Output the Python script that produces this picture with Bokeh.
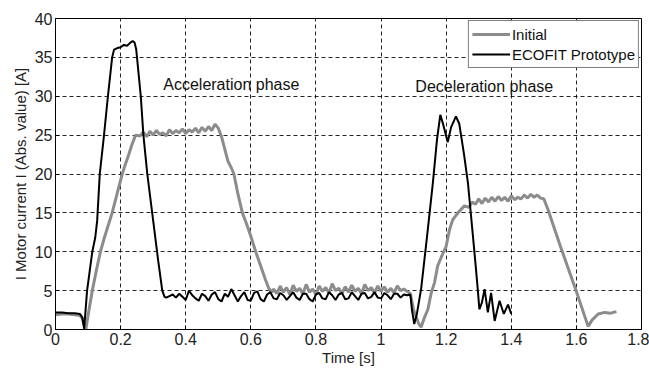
from bokeh.plotting import figure
from bokeh.models import Range1d, FixedTicker, CustomJSTickFormatter, Label, Legend, LegendItem
from bokeh.embed import file_html
from bokeh.resources import INLINE

# ---------------- data ----------------
x_ticks = [0, 0.2, 0.4, 0.6, 0.8, 1.0, 1.2, 1.4, 1.6, 1.8]
y_ticks = [0, 5, 10, 15, 20, 25, 30, 35, 40]

# ECOFIT Prototype (black)
eco_t_head = [0.00, 0.02, 0.04, 0.06, 0.075, 0.082, 0.088, 0.097, 0.113, 0.122, 0.128, 0.136,
              0.149, 0.161, 0.174, 0.180, 0.190, 0.200, 0.210, 0.220, 0.230, 0.237, 0.243,
              0.248, 0.262, 0.270, 0.282, 0.300, 0.315, 0.328, 0.335, 0.340]
eco_i_head = [2.2, 2.2, 2.1, 2.1, 2.0, 1.6, 0.1, 5.0, 10.0, 11.8, 14.0, 20.0,
              25.0, 30.0, 35.0, 36.0, 36.2, 36.3, 36.6, 36.5, 36.9, 37.1, 36.9,
              36.0, 30.0, 25.0, 20.0, 14.0, 9.0, 5.0, 4.2, 4.1]
eco_t_flat = [round(0.35 + 0.01 * k, 2) for k in range(74)]
eco_i_flat = [4.3, 4.5, 4.1, 4.6, 4.2, 3.8, 5.0, 4.4, 4.0, 3.7,
              4.6, 4.3, 3.7, 4.5, 4.8, 3.9, 3.6, 4.6, 4.2, 5.2,
              4.4, 3.6, 4.3, 4.8, 3.8, 3.7, 4.7, 4.9, 3.9, 3.6,
              4.5, 4.8, 4.0, 3.9, 4.7, 4.4, 3.8, 4.3, 4.8, 4.1,
              3.8, 4.6, 4.6, 3.9, 3.6, 4.5, 4.7, 4.0, 3.9, 4.8,
              4.4, 3.8, 4.5, 4.7, 3.9, 4.0, 4.8, 4.3, 3.8, 4.6,
              4.7, 4.0, 4.2, 4.8, 4.1, 4.0, 4.7, 4.4, 3.9, 4.6,
              4.6, 4.1, 4.5, 4.4]
eco_t_tail = [1.09, 1.095, 1.102, 1.11, 1.123, 1.14, 1.159, 1.172, 1.182, 1.19, 1.205, 1.215,
              1.23, 1.24, 1.255, 1.267, 1.28, 1.29, 1.297, 1.302, 1.31, 1.318, 1.328, 1.338,
              1.349, 1.364, 1.377, 1.39, 1.40]
eco_i_tail = [4.5, 2.5, 0.7, 2.0, 5.2, 11.5, 18.8, 24.5, 27.6, 26.5, 24.1, 26.0,
              27.4, 26.5, 22.5, 18.8, 13.0, 8.5, 5.2, 2.6, 3.5, 5.2, 2.2, 4.7,
              1.1, 3.7, 2.0, 3.2, 2.0]

# Initial (gray)
init_t_head = [0.00, 0.02, 0.04, 0.06, 0.075, 0.083, 0.088, 0.093, 0.10, 0.113, 0.125, 0.138,
               0.15, 0.162, 0.174, 0.19, 0.205, 0.215, 0.225, 0.235, 0.246]
init_i_head = [1.9, 2.0, 2.0, 1.9, 1.8, 1.4, 0.6, 0.0, 1.8, 5.0, 7.5, 10.0,
               11.8, 13.4, 15.0, 17.6, 20.0, 21.3, 22.5, 23.8, 25.0]
init_t_plat1 = [round(0.26 + 0.01 * k, 2) for k in range(25)]
init_i_plat1 = [24.9, 25.4, 24.8, 25.5, 25.0, 25.6, 25.1, 25.3, 24.9, 25.7,
                25.2, 25.6, 25.3, 25.8, 25.2, 25.7, 25.4, 25.9, 25.3, 26.0,
                25.5, 26.1, 25.6, 26.4, 25.9]
init_t_drop1 = [0.51, 0.52, 0.53, 0.54, 0.548, 0.56, 0.574, 0.585, 0.60, 0.615, 0.63, 0.645, 0.655, 0.665]
init_i_drop1 = [24.8, 23.2, 21.6, 20.8, 20.0, 17.5, 15.0, 13.8, 12.0, 10.0, 8.2, 6.4, 5.3, 4.8]
init_t_flat = [round(0.67 + 0.01 * k, 2) for k in range(42)]
init_i_flat = [5.2, 4.6, 5.6, 4.8, 5.4, 4.5, 5.7, 4.9, 5.3, 4.6,
               5.8, 4.8, 5.2, 4.5, 5.6, 4.9, 5.4, 4.7, 5.9, 5.0,
               5.3, 4.6, 5.5, 4.8, 5.7, 4.9, 5.3, 4.6, 5.8, 5.0,
               5.4, 4.7, 5.6, 4.9, 5.5, 4.8, 5.3, 4.7, 5.6, 5.0,
               5.2, 4.9]
init_t_rise2 = [1.09, 1.10, 1.115, 1.123, 1.133, 1.144, 1.154, 1.164, 1.174, 1.187, 1.20, 1.21,
                1.22, 1.236, 1.256, 1.27, 1.28]
init_i_rise2 = [4.6, 2.5, 0.8, 0.3, 1.5, 2.6, 4.7, 6.0, 8.2, 9.5, 10.7, 12.8,
                14.1, 15.0, 15.9, 15.7, 16.4]
init_t_plat2 = [round(1.29 + 0.01 * k, 2) for k in range(22)]
init_i_plat2 = [16.1, 16.8, 16.2, 16.9, 16.4, 17.0, 16.5, 17.1, 16.6, 17.0,
                16.5, 17.2, 16.7, 17.0, 16.8, 17.3, 16.9, 17.4, 17.0, 17.3,
                16.9, 16.8]
init_t_tail = [1.513, 1.55, 1.60, 1.636, 1.648, 1.667, 1.687, 1.705, 1.723]
init_i_tail = [15.4, 10.8, 4.9, 0.4, 1.2, 2.0, 2.2, 2.1, 2.3]

eco_t = eco_t_head + eco_t_flat + eco_t_tail
eco_i = eco_i_head + eco_i_flat + eco_i_tail
init_t = init_t_head + init_t_plat1 + init_t_drop1 + init_t_flat + init_t_rise2 + init_t_plat2 + init_t_tail
init_i = init_i_head + init_i_plat1 + init_i_drop1 + init_i_flat + init_i_rise2 + init_i_plat2 + init_i_tail
assert len(eco_t) == len(eco_i)
assert len(init_t) == len(init_i)

series_labels = ["Initial", "ECOFIT Prototype"]
phase_labels = ["Acceleration phase", "Deceleration phase"]
phase_x = [0.54, 1.317]
phase_y = [31.5, 31.2]

FONT = "Liberation Sans"

# ---------------- figure ----------------
p = figure(width=649, height=368, output_backend="svg", toolbar_location=None,
           x_range=Range1d(0, 1.8), y_range=Range1d(0, 40),
           min_border_left=55, min_border_right=8, min_border_top=18, min_border_bottom=37)
p.background_fill_color = "white"
p.border_fill_color = "white"
p.outline_line_color = "black"
p.outline_line_width = 1
p.outline_line_alpha = 1

p.xaxis.ticker = FixedTicker(ticks=x_ticks)
p.yaxis.ticker = FixedTicker(ticks=y_ticks)
p.xaxis.formatter = CustomJSTickFormatter(code="return (Math.round(tick*10)/10).toString();")

for ax in (p.xaxis, p.yaxis):
    ax.axis_line_color = "black"
    ax.major_tick_line_color = "black"
    ax.major_tick_in = 4
    ax.major_tick_out = 0
    ax.minor_tick_line_color = None
    ax.major_label_text_font = FONT
    ax.major_label_text_font_size = "16px"
    ax.major_label_text_color = "#222222"
    ax.axis_label_text_font = FONT
    ax.axis_label_text_font_size = "15px"
    ax.axis_label_text_font_style = "normal"
    ax.axis_label_text_color = "#222222"
p.xaxis.major_label_standoff = 3
p.yaxis.major_label_standoff = 3
p.xaxis.axis_label = "Time [s]"
p.yaxis.axis_label = "I Motor current I (Abs. value) [A]"
p.xaxis.axis_label_standoff = 1
p.yaxis.axis_label_standoff = 3

for g in (p.xgrid, p.ygrid):
    g.grid_line_color = "black"
    g.grid_line_dash = "4 3"
    g.grid_line_alpha = 0.85
    g.grid_line_width = 1

r_init = p.line(init_t, init_i, line_color="#8c8c8c", line_width=3)
r_eco = p.line(eco_t, eco_i, line_color="black", line_width=2)

for txt, xx, yy in zip(phase_labels, phase_x, phase_y):
    p.add_layout(Label(x=xx, y=yy, text=txt, text_align="center", text_baseline="middle",
                       text_font=FONT, text_font_size="16px", text_color="#111111"))

legend = Legend(items=[LegendItem(label=series_labels[0], renderers=[r_init]),
                       LegendItem(label=series_labels[1], renderers=[r_eco])],
                location="top_right")
legend.border_line_color = "black"
legend.border_line_width = 1
legend.background_fill_color = "white"
legend.background_fill_alpha = 1
legend.margin = 2
legend.padding = 3
legend.spacing = 0
legend.glyph_width = 38
legend.glyph_height = 20
legend.label_height = 20
legend.label_standoff = 2
legend.label_text_font = FONT
legend.label_text_font_size = "15px"
legend.label_text_color = "#111111"
p.add_layout(legend)

open("out.html", "w").write(file_html(p, INLINE))
